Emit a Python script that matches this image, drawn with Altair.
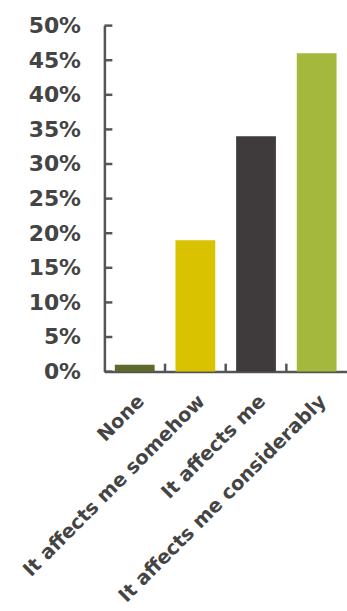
import altair as alt
import pandas as pd

categories = ["None", "It affects me somehow", "It affects me", "It affects me considerably"]
values = [0.01, 0.19, 0.34, 0.46]
colors = ["#5c6b2a", "#d9c300", "#3f3b3c", "#a3b83c"]
y_ticks = [0, 0.05, 0.10, 0.15, 0.20, 0.25, 0.30, 0.35, 0.40, 0.45, 0.50]

df = pd.DataFrame({"cat": categories, "val": values})
df_yt = pd.DataFrame({"t": y_ticks})
df_xt = pd.DataFrame({"cat": categories[1:]})

FONT = "DejaVu Sans"
AX = "#555555"

x_scale = alt.Scale(domain=categories, paddingInner=0.344, paddingOuter=0.172)
x_axis = alt.Axis(labelAngle=-45, ticks=False, domainColor=AX, domainWidth=2.5,
                  labelFont=FONT, labelFontSize=19.5, labelColor="#444444",
                  labelFontWeight="bold", labelPadding=20, labelLimit=400)
y_scale = alt.Scale(domain=[0, 0.5], nice=False)
y_axis = alt.Axis(values=y_ticks, format=".0%", ticks=False, grid=False,
                  domainColor=AX, domainWidth=2.5, labelFont=FONT,
                  labelFontSize=22, labelFontWeight="bold", labelColor="#444444",
                  labelPadding=24)

bars = alt.Chart(df).mark_bar().encode(
    x=alt.X("cat:N", sort=categories, title=None, scale=x_scale, axis=x_axis),
    y=alt.Y("val:Q", scale=y_scale, title=None, axis=y_axis),
    color=alt.Color("cat:N", sort=categories,
                    scale=alt.Scale(domain=categories, range=colors), legend=None),
)

yticks = alt.Chart(df_yt).mark_rule(color=AX, strokeWidth=2.5).encode(
    y=alt.Y("t:Q", scale=y_scale, title=None, axis=y_axis),
    x=alt.value(0), x2=alt.value(8),
)

xticks = alt.Chart(df_xt).mark_rule(color=AX, strokeWidth=2.5, xOffset=-10.5).encode(
    x=alt.X("cat:N", sort=categories, title=None, scale=x_scale, axis=x_axis, bandPosition=0),
    y=alt.value(348), y2=alt.value(340),
)

chart = alt.layer(bars, yticks, xticks).properties(
    width=244, height=348,
    autosize=alt.AutoSizeParams(type="none"),
    padding={"left": 105, "top": 24, "right": 0, "bottom": 239},
).configure_view(stroke=None)

chart.save("out.html", embed_options={"renderer": "svg", "actions": False})
